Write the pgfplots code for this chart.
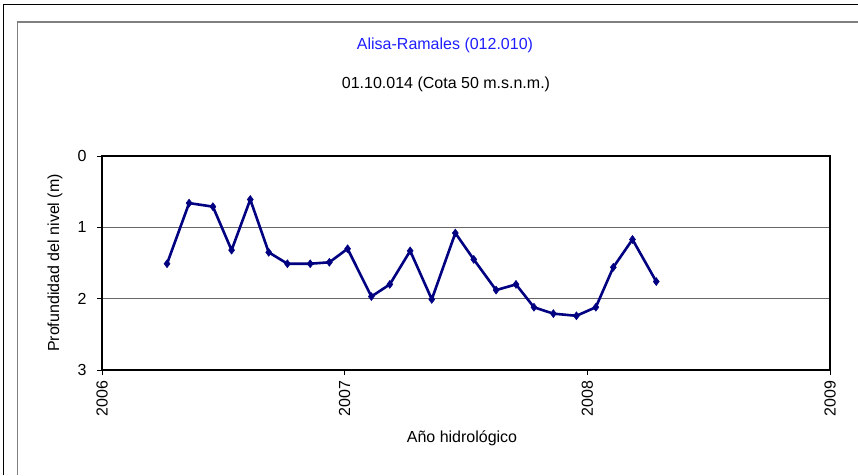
\documentclass[border=0pt]{standalone}
\usepackage{fontspec}
\setmainfont{Liberation Sans}
\usepackage{pgfplots}
\pgfplotsset{compat=1.18}
\definecolor{navyline}{RGB}{0,0,128}
\definecolor{titleblue}{RGB}{30,30,255}
\definecolor{framegray}{RGB}{128,128,128}
\begin{document}
\fontsize{16}{19}\selectfont
\begin{tikzpicture}
\useasboundingbox (0pt,0pt) rectangle (858pt,475pt);
\draw[black,line width=1.6pt] (3.6pt,0pt) -- (3.6pt,470.3pt) -- (858pt,470.3pt);
\draw[framegray,line width=1.3pt] (17.5pt,0pt) -- (17.5pt,453pt) -- (858pt,453pt);
\node[titleblue,anchor=center] at (445pt,430pt) {Alisa-Ramales (012.010)};
\node[black,anchor=center] at (446pt,391pt) {01.10.014 (Cota 50 m.s.n.m.)};
\begin{axis}[
  at={(102pt,105pt)}, anchor=south west,
  scale only axis, width=728pt, height=214pt,
  /pgf/number format/assume math mode=true,
  xmin=2006, xmax=2009, ymin=0, ymax=3,
  y dir=reverse,
  xtick={2006,2007,2008,2009},
  xticklabels={2006,2007,2008,2009},
  ytick={0,1,2,3},
  yticklabels={0,1,2,3},
  xtick pos=bottom, ytick pos=left,
  tick align=outside,
  major tick length=5pt,
  every tick/.style={black,line width=0.8pt},
  axis line style={black,line width=1.8pt},
  ymajorgrids,
  grid style={framegray!80!black,line width=1pt},
  xticklabel style={rotate=90,anchor=east},
  yticklabel style={anchor=east,xshift=-5pt},
  xlabel={Año hidrológico},
  ylabel={Profundidad del nivel (m)},
  xlabel style={at={(axis description cs:0.4945,0)},anchor=center,yshift=-68pt},
  ylabel style={at={(axis description cs:-0.0646,0.5)},anchor=center,rotate=0},
  clip=false,
]
\addplot[navyline,line width=2.6pt,mark=diamond*,mark size=4pt,
  mark options={fill=navyline,draw=navyline,line width=0.5pt}] coordinates {
(2006.268,1.51)
(2006.359,0.66)
(2006.457,0.71)
(2006.534,1.32)
(2006.611,0.61)
(2006.687,1.35)
(2006.764,1.51)
(2006.858,1.51)
(2006.937,1.49)
(2007.012,1.30)
(2007.110,1.97)
(2007.186,1.80)
(2007.270,1.33)
(2007.359,2.01)
(2007.456,1.08)
(2007.532,1.45)
(2007.624,1.88)
(2007.706,1.80)
(2007.780,2.12)
(2007.860,2.21)
(2007.955,2.24)
(2008.035,2.12)
(2008.107,1.56)
(2008.186,1.17)
(2008.284,1.76)
};
\end{axis}
\end{tikzpicture}
\end{document}
